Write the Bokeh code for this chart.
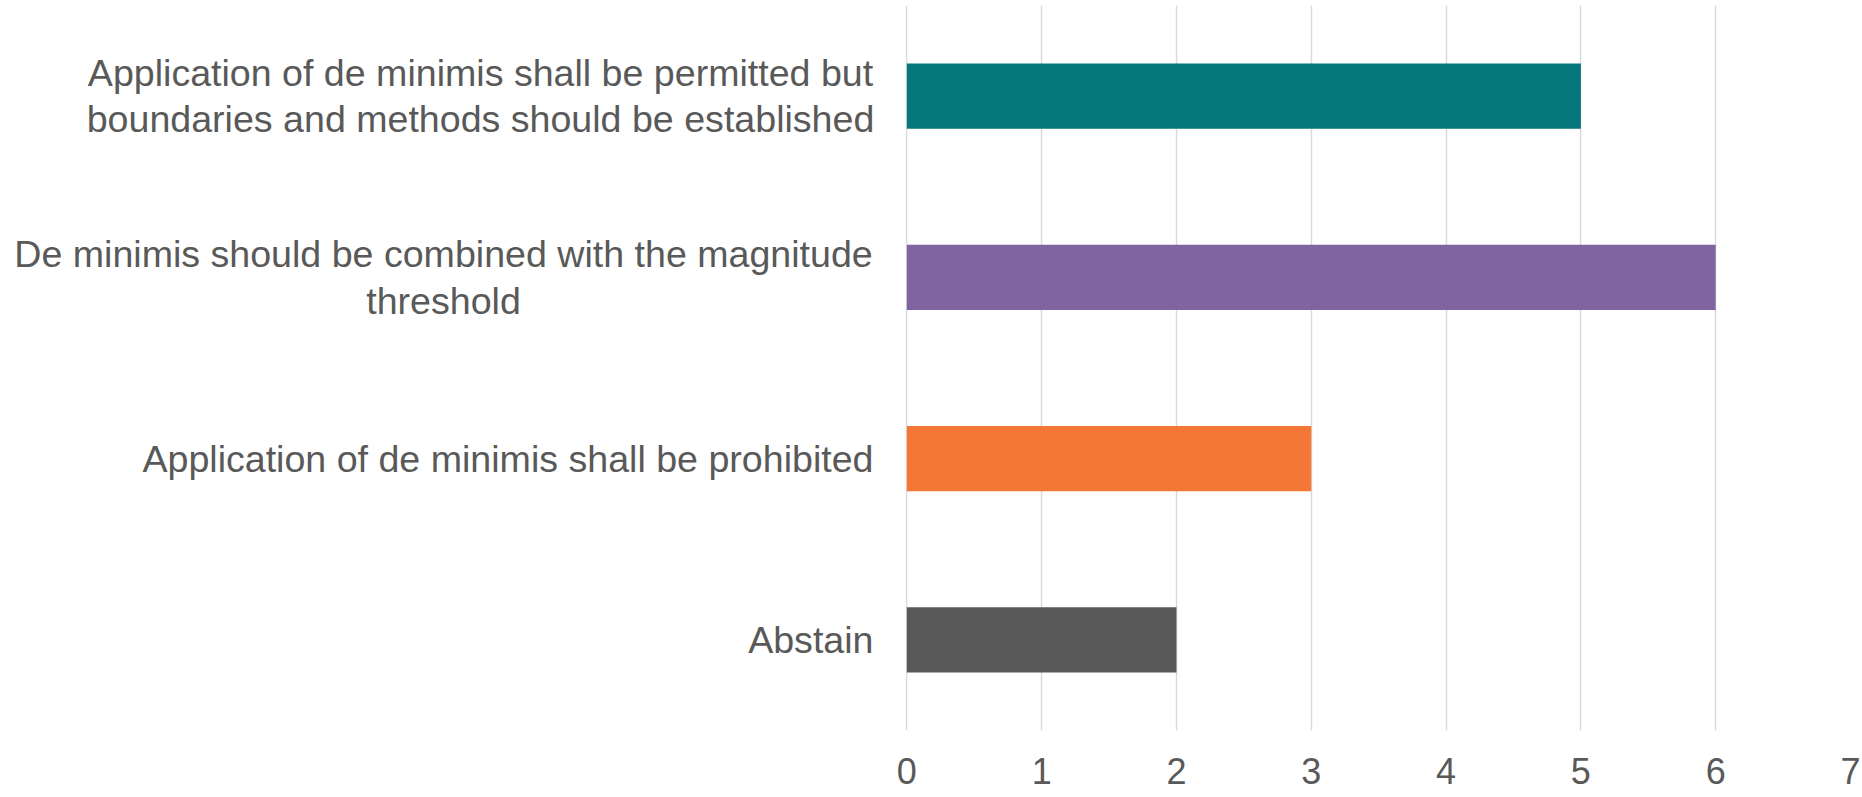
from bokeh.plotting import figure
from bokeh.models import FactorRange, ColumnDataSource, FixedTicker, Label, Range1d
from bokeh.layouts import row
from bokeh.embed import file_html
from bokeh.resources import INLINE

categories = [
    "Application of de minimis shall be permitted but\nboundaries and methods should be established",
    "De minimis should be combined with the magnitude\nthreshold",
    "Application of de minimis shall be prohibited",
    "Abstain",
]
values = [5, 6, 3, 2]
colors = ["#05767A", "#8064A2", "#F47735", "#595959"]
x_ticks = [0, 1, 2, 3, 4, 5, 6, 7]

# label anchor x (px inside the label panel)
label_x = [480, 443, 873, 873]

src = ColumnDataSource(dict(cat=categories, val=values, color=colors))
factors = list(reversed(categories))
yr = FactorRange(factors=factors, range_padding=0)

LEFT_W = 880
TOTAL_W = 1862
H = 797

# ---- label panel (left) ----
lp = figure(
    width=LEFT_W, height=H, y_range=yr, x_range=Range1d(0, LEFT_W),
    output_backend="svg", toolbar_location=None,
    min_border_left=0, min_border_right=0, min_border_top=5, min_border_bottom=67,
)
lp.xaxis.visible = False
lp.yaxis.visible = False
lp.grid.visible = False
lp.outline_line_color = None
lp.background_fill_color = "white"
lp.border_fill_color = "white"
for cat, lx in zip(categories, label_x):
    multi = "\n" in cat
    ypos = factors.index(cat) + 0.5  # synthetic coordinate of the factor's centre
    lp.add_layout(Label(
        x=lx, y=ypos,
        text=cat,
        text_align="center" if multi else "right",
        text_baseline="middle",
        text_font="Liberation Sans",
        text_font_size="37.6px",
        text_color="#595959",
        text_line_height=1.11,
    ))

# ---- bar chart (right) ----
p = figure(
    width=TOTAL_W - LEFT_W, height=H,
    y_range=yr, x_range=Range1d(-0.01, 7),
    output_backend="svg", toolbar_location=None,
    min_border_left=25, min_border_right=12, min_border_top=5, min_border_bottom=67,
)
p.hbar(y="cat", right="val", left=0, height=0.36, color="color", source=src, line_color=None)

p.outline_line_color = None
p.background_fill_color = "white"
p.border_fill_color = "white"
p.ygrid.grid_line_color = None
p.xgrid.grid_line_color = "#D9D9D9"
p.xgrid.grid_line_width = 1.5
p.xgrid.ticker = FixedTicker(ticks=x_ticks)

p.xaxis.ticker = FixedTicker(ticks=x_ticks)
p.xaxis.axis_line_color = None
p.xaxis.major_tick_line_color = None
p.xaxis.minor_tick_line_color = None
p.xaxis.major_tick_out = 0
p.xaxis.major_label_text_font = "Liberation Sans"
p.xaxis.major_label_text_font_size = "36px"
p.xaxis.major_label_text_color = "#595959"
p.xaxis.major_label_standoff = 27

p.yaxis.visible = False

layout = row(lp, p, spacing=0)
open("out.html", "w").write(file_html(layout, INLINE))
